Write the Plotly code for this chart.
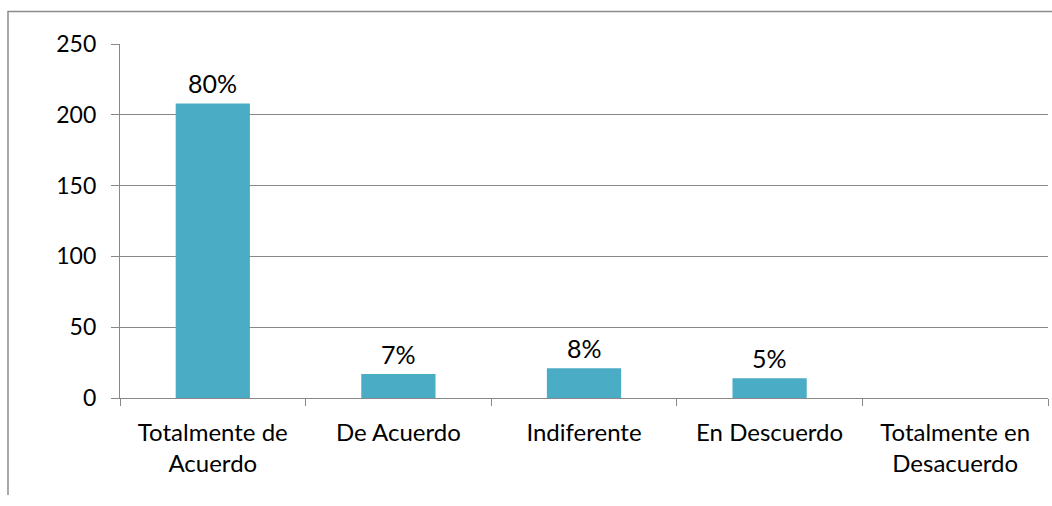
import plotly.graph_objects as go

categories = ["Totalmente de<br>Acuerdo", "De Acuerdo", "Indiferente", "En Descuerdo", "Totalmente en<br>Desacuerdo"]
values = [208, 17, 21, 14, 0]
pct_labels = ["80%", "7%", "8%", "5%", ""]
y_ticks = [0, 50, 100, 150, 200, 250]

FONT = "Lato"
BAR = "#4BACC6"
GRID = "#888888"

fig = go.Figure()
fig.add_trace(go.Bar(x=categories, y=values, marker=dict(color=BAR, line=dict(width=0)),
                     width=0.4, showlegend=False))

for c, v, t in zip(categories, values, pct_labels):
    if t:
        fig.add_annotation(x=c, y=v, text=t, showarrow=False, yanchor="bottom",
                           yshift=3, font=dict(family=FONT, size=25, color="#000000"))

# outer chart frame (left and top edges)
fig.add_shape(type="path", xref="paper", yref="paper",
              path="M -0.1207,-0.274 L -0.1207,1.0918 L 1.01,1.0918",
              line=dict(color="#8c8c8c", width=1.5))

fig.update_layout(
    width=1052, height=506,
    margin=dict(l=120, r=4, t=44, b=108),
    paper_bgcolor="white", plot_bgcolor="white",
    font=dict(family=FONT, size=22, color="#000000"),
    bargap=0.6,
)
fig.update_xaxes(type="category", tickson="boundaries", ticks="outside", ticklen=7,
                 tickcolor=GRID, tickwidth=1.3, showline=True, linecolor=GRID, linewidth=1.3,
                 showgrid=False, ticklabelstandoff=13,
                 tickfont=dict(family=FONT, size=24, color="#000000"))
fig.update_yaxes(range=[0, 250], tickvals=y_ticks, ticks="outside", ticklen=8,
                 tickcolor=GRID, tickwidth=1.3, showline=True, linecolor=GRID, linewidth=1.3,
                 showgrid=True, gridcolor=GRID, gridwidth=1.3, zeroline=False,
                 ticklabelstandoff=10, tickfont=dict(family=FONT, size=23, color="#000000"))

fig.write_html("out.html", config={"displayModeBar": False},
               post_script="document.body.style.margin='0';document.body.style.overflow='hidden';")
